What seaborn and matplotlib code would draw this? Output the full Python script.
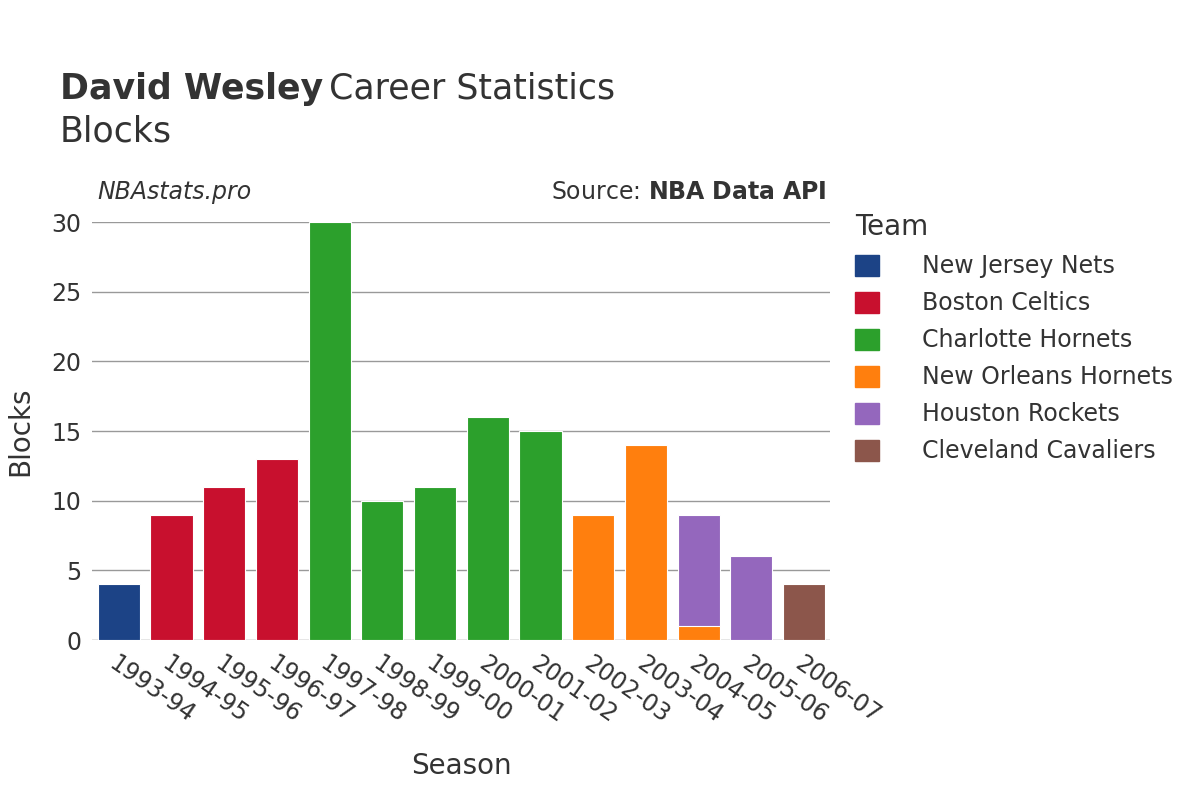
import matplotlib
matplotlib.use("Agg")
import matplotlib.pyplot as plt
import seaborn as sns
import pandas as pd
from matplotlib.patches import Patch

seasons = ["1993-94","1994-95","1995-96","1996-97","1997-98","1998-99","1999-00",
           "2000-01","2001-02","2002-03","2003-04","2004-05","2005-06","2006-07"]
row_season = ["1993-94","1994-95","1995-96","1996-97","1997-98","1998-99","1999-00",
              "2000-01","2001-02","2002-03","2003-04","2004-05","2004-05","2005-06","2006-07"]
row_team = ["New Jersey Nets","Boston Celtics","Boston Celtics","Boston Celtics",
            "Charlotte Hornets","Charlotte Hornets","Charlotte Hornets","Charlotte Hornets",
            "Charlotte Hornets","New Orleans Hornets","New Orleans Hornets","New Orleans Hornets",
            "Houston Rockets","Houston Rockets","Cleveland Cavaliers"]
row_blocks = [4, 9, 11, 13, 30, 10, 11, 16, 15, 9, 14, 1, 8, 6, 4]
teams = ["New Jersey Nets","Boston Celtics","Charlotte Hornets","New Orleans Hornets",
         "Houston Rockets","Cleveland Cavaliers"]
colors = ["#1c4386","#c8102e","#2ca02c","#ff7f0e","#9467bd","#8c564b"]

df = pd.DataFrame({"season": row_season, "team": row_team, "blocks": row_blocks})
df["top"] = df.groupby("season")["blocks"].cumsum()
pal = dict(zip(teams, colors))

fig = plt.figure(figsize=(12, 8), dpi=100)
ax = fig.add_axes([0.077, 0.2, 0.615, 0.5225])
sns.barplot(data=df, x="season", y="top", hue="team", order=seasons,
            hue_order=teams[::-1], palette=pal, dodge=False, width=0.8,
            saturation=1, edgecolor="white", linewidth=0.8, legend=False, ax=ax, zorder=3)
ax.set_ylim(0, 30)
ax.set_xlim(-0.5, len(seasons) - 0.5)
ax.set_yticks([0, 5, 10, 15, 20, 25, 30])
ax.grid(axis="y", color="#999999", linewidth=1, zorder=0)
ax.set_axisbelow(True)
for s in ax.spines.values():
    s.set_visible(False)
ax.axhline(0, color="#e6e6e6", linewidth=2, zorder=2)
ax.tick_params(axis="both", length=0, labelsize=17, colors="#333333", pad=8)
plt.setp(ax.get_xticklabels(), rotation=-35, ha="left", rotation_mode="anchor")
ax.set_xlabel("Season", fontsize=20, color="#333333", labelpad=18)
ax.set_ylabel("Blocks", fontsize=20, color="#333333", labelpad=12)

fig.text(0.05, 0.889, "David Wesley", fontsize=25, fontweight="bold", color="#333333", va="center")
fig.text(0.274, 0.889, "Career Statistics", fontsize=25, color="#333333", va="center")
fig.text(0.05, 0.835, "Blocks", fontsize=25, color="#333333", va="center")
fig.text(0.081, 0.76, "NBAstats.pro", fontsize=17, style="italic", color="#333333", va="center")
fig.text(0.689, 0.76, "Source: $\\bf{NBA\\ Data\\ API}$", fontsize=17, color="#333333", va="center", ha="right")

handles = [Patch(facecolor=c, edgecolor=c, label=t) for t, c in zip(teams, colors)]
leg = fig.legend(handles=handles, loc="upper left", bbox_to_anchor=(0.705, 0.745),
                 frameon=False, fontsize=17, title="Team", title_fontsize=20,
                 handlelength=1.0, handleheight=1.0, labelspacing=0.55, handletextpad=1.8,
                 borderaxespad=0)
leg._legend_box.align = "left"
for t in leg.get_texts():
    t.set_color("#333333")
leg.get_title().set_color("#333333")

fig.savefig("out.png", dpi=100)
